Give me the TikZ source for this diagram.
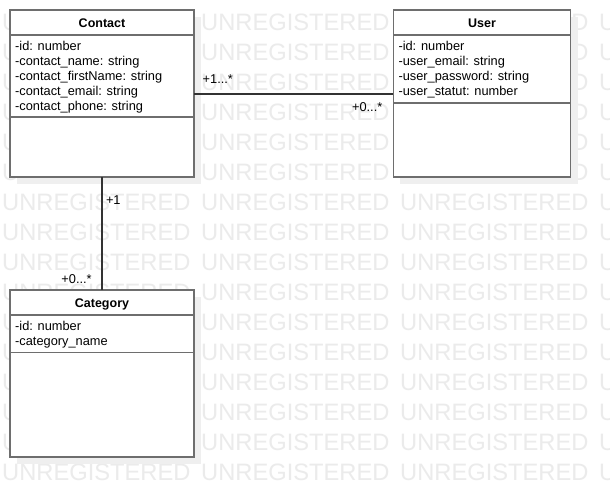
\documentclass[tikz,border=0pt]{standalone}
\usepackage{fontspec}
\setmainfont{Liberation Sans}
\usetikzlibrary{positioning,shadows}

\definecolor{boxgray}{HTML}{6E6E6E}
\definecolor{linegray}{HTML}{333333}
\definecolor{wmgray}{HTML}{EBEBEB}
\definecolor{shadowgray}{HTML}{EFEFEF}

\tikzset{
  classbox/.style={draw=boxgray, line width=1.5pt, fill=white, inner sep=0pt, outer sep=0pt,
    minimum width=184pt, minimum height=167pt,
    drop shadow={shadow xshift=7pt, shadow yshift=-7pt, fill=shadowgray, opacity=1}},
  classname/.style={font=\fontsize{12.5}{15}\selectfont\bfseries, inner sep=0pt, anchor=base},
  attrs/.style={font=\fontsize{12.8}{15}\selectfont, align=left, inner sep=0pt, anchor=north west},
  divider/.style={draw=boxgray, line width=1.5pt},
  assoc/.style={draw=linegray, line width=2pt},
  mult/.style={font=\fontsize{12.8}{15}\selectfont, inner sep=0pt},
  wmtext/.style={font=\fontsize{23.7}{24}\selectfont, text=wmgray, inner sep=0pt, anchor=west},
}

\begin{document}
\begin{tikzpicture}[x=1pt, y=-1pt]
    \useasboundingbox[fill=white] (0,0) rectangle (610,498) ;

    \foreach \r in {0,...,15}
      \foreach \c in {0,...,3}
        \node[wmtext] (wm\r-\c) at (2+199*\c, 22+30*\r) {UNREGISTERED} ;

    \node[classbox] (contact) at (102,93.5) {} ;
    \node[classname] (contactName) at ([yshift=-17.3pt]contact.north) {Contact} ;
    \draw[divider] ([yshift=-25pt]contact.north west) -- ([yshift=-25pt]contact.north east) ;
    \node[attrs] (contactAttrs) at ([xshift=5pt,yshift=-31.3pt]contact.north west)
      {-id: number\\-contact\_name: string\\-contact\_firstName: string\\-contact\_email: string\\-contact\_phone: string} ;
    \draw[divider] ([yshift=-107pt]contact.north west) -- ([yshift=-107pt]contact.north east) ;

    \node[classbox, minimum width=177.4pt, right = 199.3pt of contact] (user) {} ;
    \node[classname] (userName) at ([yshift=-17.3pt]user.north) {User} ;
    \draw[divider] ([yshift=-25pt]user.north west) -- ([yshift=-25pt]user.north east) ;
    \node[attrs] (userAttrs) at ([xshift=5pt,yshift=-31.3pt]user.north west)
      {-id: number\\-user\_email: string\\-user\_password: string\\-user\_statut: number} ;
    \draw[divider] ([yshift=-93pt]user.north west) -- ([yshift=-93pt]user.north east) ;

    \node[classbox, below = 113pt of contact] (category) {} ;
    \node[classname] (categoryName) at ([yshift=-17.3pt]category.north) {Category} ;
    \draw[divider] ([yshift=-25pt]category.north west) -- ([yshift=-25pt]category.north east) ;
    \node[attrs] (categoryAttrs) at ([xshift=5pt,yshift=-31.3pt]category.north west)
      {-id: number\\-category\_name} ;
    \draw[divider] ([yshift=-62.7pt]category.north west) -- ([yshift=-62.7pt]category.north east) ;

    \draw[assoc] (contact) -- (user)
      node[mult, pos=0, anchor=base west, xshift=7.7pt, yshift=10.2pt] (contactUserM) {+1...*}
      node[mult, pos=1, anchor=base east, xshift=-10pt, yshift=-17.5pt] (userContactM) {+0...*} ;
    \draw[assoc] (contact) -- (category)
      node[mult, pos=0, anchor=base west, xshift=3pt, yshift=-27pt] (contactCatM) {+1}
      node[mult, pos=1, anchor=base east, xshift=-9.3pt, yshift=6.7pt] (catContactM) {+0...*} ;
\end{tikzpicture}
\end{document}
